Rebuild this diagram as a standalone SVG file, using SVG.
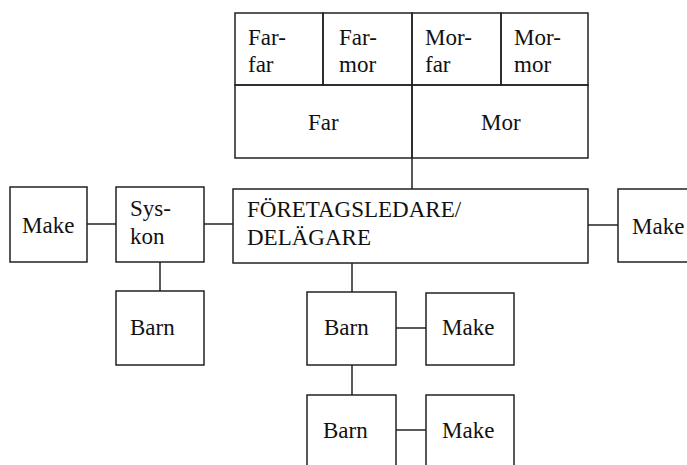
<svg xmlns="http://www.w3.org/2000/svg" width="687" height="465" viewBox="0 0 687 465">
<style>
.b{fill:none;stroke:#222;stroke-width:1.5}
.c{stroke:#222;stroke-width:1.5;fill:none}
text{font-family:"Liberation Serif","Times New Roman",serif;font-size:23px;fill:#111}
</style>
<rect width="687" height="465" fill="#fff"/>
<g id="connectors">
<line class="c" x1="412" y1="158" x2="412" y2="189"/>
<line class="c" x1="87" y1="224" x2="116" y2="224"/>
<line class="c" x1="204" y1="224" x2="233" y2="224"/>
<line class="c" x1="588" y1="225" x2="618" y2="225"/>
<line class="c" x1="160" y1="262" x2="160" y2="291"/>
<line class="c" x1="352" y1="263" x2="352" y2="292"/>
<line class="c" x1="396" y1="328" x2="426" y2="328"/>
<line class="c" x1="352" y1="365" x2="352" y2="395"/>
<line class="c" x1="396" y1="430" x2="426" y2="430"/>
</g>
<g id="farfar"><rect class="b" x="235" y="13" width="88" height="72"/><text x="248" y="45">Far-</text><text x="248" y="72">far</text></g>
<g id="farmor"><rect class="b" x="323" y="13" width="89" height="72"/><text x="339" y="45">Far-</text><text x="339" y="72">mor</text></g>
<g id="morfar"><rect class="b" x="412" y="13" width="89" height="72"/><text x="425" y="45">Mor-</text><text x="425" y="72">far</text></g>
<g id="mormor"><rect class="b" x="501" y="13" width="87" height="72"/><text x="514" y="45">Mor-</text><text x="514" y="72">mor</text></g>
<g id="far"><rect class="b" x="235" y="85" width="177" height="73"/><text x="308" y="130">Far</text></g>
<g id="mor"><rect class="b" x="412" y="85" width="176" height="73"/><text x="481" y="130">Mor</text></g>
<g id="make-left"><rect class="b" x="10" y="187" width="77" height="75"/><text x="22" y="233">Make</text></g>
<g id="syskon"><rect class="b" x="116" y="187" width="88" height="75"/><text x="130" y="216">Sys-</text><text x="130" y="244">kon</text></g>
<g id="foretagsledare"><rect class="b" x="233" y="189" width="355" height="74"/><text x="247" y="217">FÖRETAGSLEDARE/</text><text x="247" y="245">DELÄGARE</text></g>
<g id="make-right"><rect class="b" x="618" y="189" width="90" height="73"/><text x="632" y="234">Make</text></g>
<g id="barn-syskon"><rect class="b" x="116" y="291" width="88" height="74"/><text x="130" y="335">Barn</text></g>
<g id="barn1"><rect class="b" x="307" y="292" width="89" height="73"/><text x="324" y="335">Barn</text></g>
<g id="make1"><rect class="b" x="426" y="293" width="88" height="72"/><text x="442" y="335">Make</text></g>
<g id="barn2"><rect class="b" x="307" y="395" width="89" height="80"/><text x="323" y="438">Barn</text></g>
<g id="make2"><rect class="b" x="426" y="395" width="88" height="80"/><text x="442" y="438">Make</text></g>
</svg>
